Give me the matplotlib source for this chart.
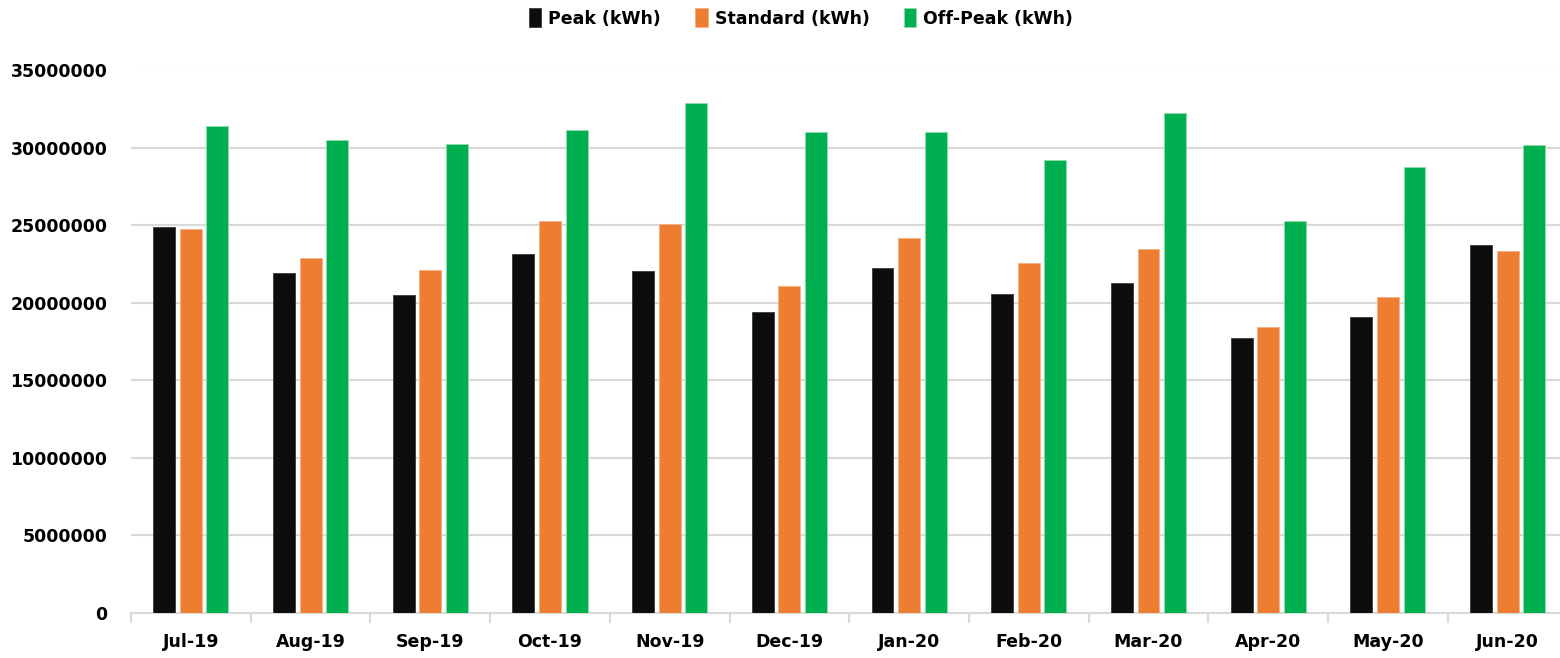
import matplotlib
matplotlib.use("Agg")
from matplotlib import pyplot as plt
import numpy as np

# monthly energy use by tariff period
months = ['Jul-19', 'Aug-19', 'Sep-19', 'Oct-19', 'Nov-19', 'Dec-19',
          'Jan-20', 'Feb-20', 'Mar-20', 'Apr-20', 'May-20', 'Jun-20']
peak = [24920000, 21950000, 20530000, 23170000, 22080000, 19410000,
        22270000, 20550000, 21300000, 17700000, 19060000, 23750000]
standard = [24790000, 22920000, 22140000, 25280000, 25060000, 21060000,
            24200000, 22590000, 23450000, 18450000, 20400000, 23320000]
offpeak = [31430000, 30530000, 30250000, 31190000, 32890000, 31040000,
           31040000, 29190000, 32250000, 25280000, 28740000, 30160000]

plt.rcParams['font.family'] = 'DejaVu Sans'
plt.rcParams['font.weight'] = 'bold'

fig = plt.figure(figsize=(15.6, 6.58), dpi=100)
ax = fig.add_axes([131 / 1560, 1 - 612.5 / 658, 1436.5 / 1560, 542 / 658])

x = np.arange(len(months))
w = 0.183
step = 0.222
ax.bar(x - step, peak, w, color='#0d0d0d', edgecolor='#3a3a3a', linewidth=0.6,
       label='Peak (kWh)', zorder=3)
ax.bar(x, standard, w, color='#ed7d31', edgecolor='#f4b183', linewidth=0.6,
       label='Standard (kWh)', zorder=3)
ax.bar(x + step, offpeak, w, color='#00b050', edgecolor='#8fdcae', linewidth=0.6,
       label='Off-Peak (kWh)', zorder=3)

ax.set_xlim(-0.5, len(months) - 0.5)
ax.set_ylim(0, 35000000)
ax.set_yticks(np.arange(0, 35000001, 5000000))
ax.set_yticklabels([str(v) for v in range(0, 35000001, 5000000)])
ax.grid(axis='y', color='#d9d9d9', linewidth=1.5, zorder=0)

ax.set_xticks(x)
ax.set_xticklabels(months)
ax.set_xticks(np.arange(-0.5, len(months), 1), minor=True)
ax.tick_params(axis='x', which='major', length=0, pad=15, labelsize=12.5)
ax.tick_params(axis='x', which='minor', length=7, width=1.5, color='#d9d9d9')
ax.tick_params(axis='y', length=0, pad=17, labelsize=12.5)

for s in ['top', 'right', 'left']:
    ax.spines[s].set_visible(False)
ax.spines['bottom'].set_color('#d9d9d9')
ax.spines['bottom'].set_linewidth(1.5)

fig.legend(loc='center', bbox_to_anchor=(801 / 1560, 1 - 18 / 658), ncol=3,
           frameon=False, fontsize=12.5, handlelength=0.7, handleheight=1.3,
           handletextpad=0.4, columnspacing=2.0)

fig.savefig('out.png', dpi=100)
